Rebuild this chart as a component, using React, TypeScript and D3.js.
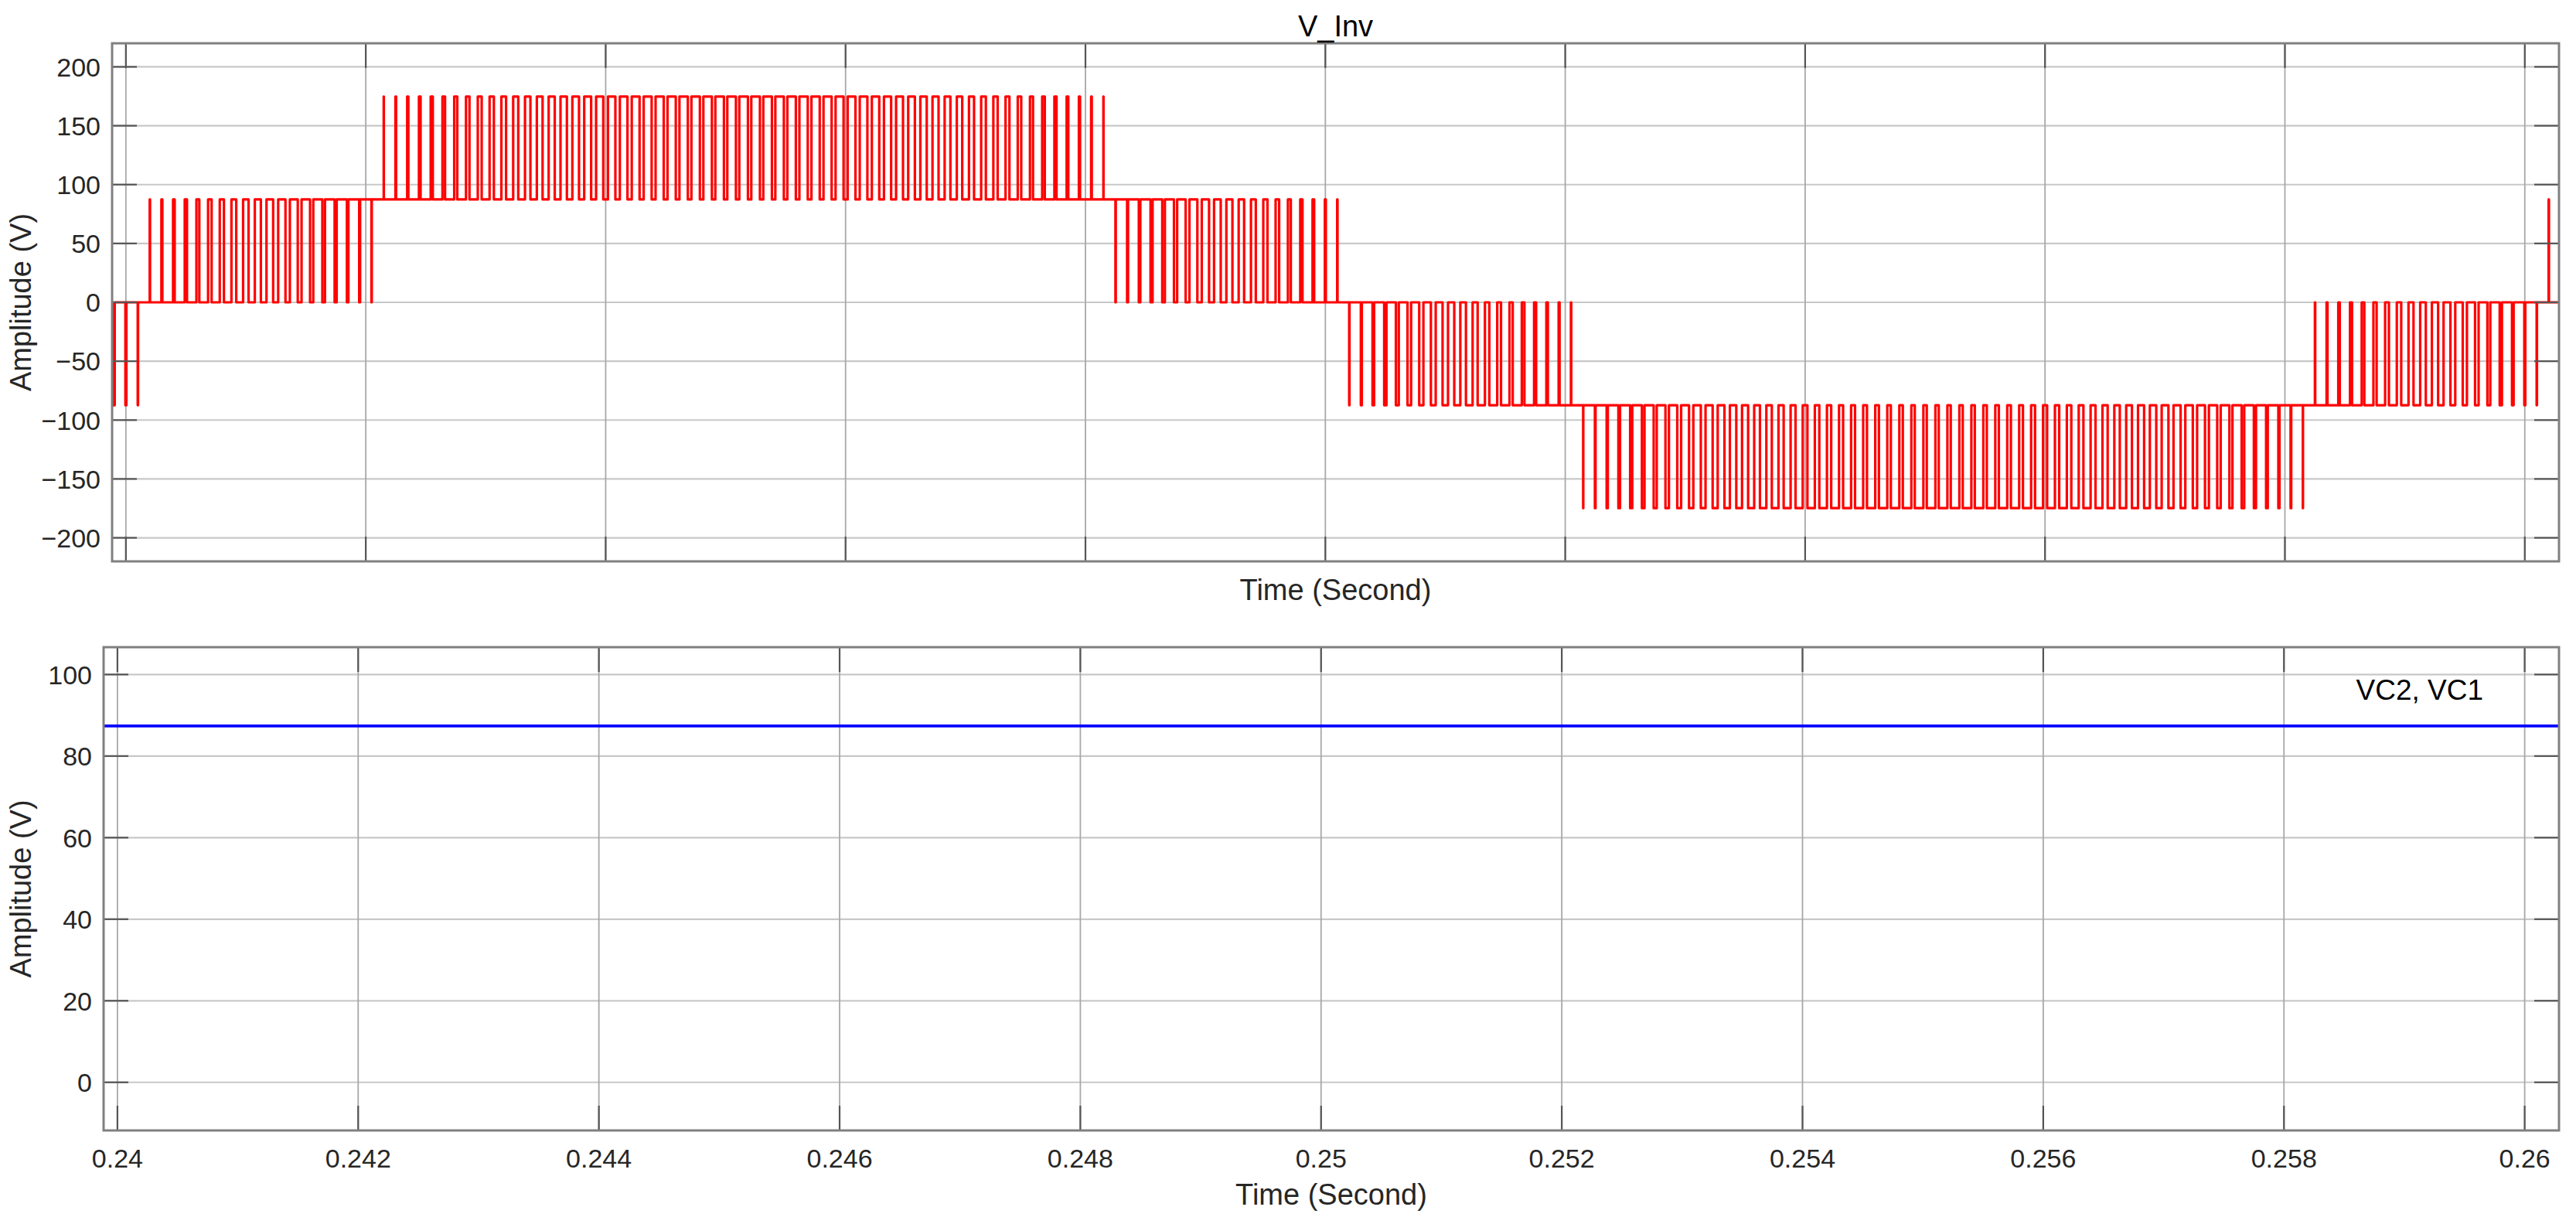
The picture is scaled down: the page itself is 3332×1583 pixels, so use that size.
import React from 'react';
import * as d3 from 'd3';

// ---------- data ----------
const timeDomain: [number, number] = [0.239885, 0.260285];
const timeTicks = [0.24, 0.242, 0.244, 0.246, 0.248, 0.25, 0.252, 0.254, 0.256, 0.258, 0.26];
const timeTickLabels = ['0.24', '0.242', '0.244', '0.246', '0.248', '0.25', '0.252', '0.254', '0.256', '0.258', '0.26'];

const invDomain: [number, number] = [-220, 220];
const invTicks = [-200, -150, -100, -50, 0, 50, 100, 150, 200];
const invTickLabels = ['\u2212200', '\u2212150', '\u2212100', '\u221250', '0', '50', '100', '150', '200'];

const capDomain: [number, number] = [-11.8, 106.7];
const capTicks = [0, 20, 40, 60, 80, 100];
const capTickLabels = ['0', '20', '40', '60', '80', '100'];

// PWM carrier period (s)
const carrierPeriod = 0.0001;

// Pulse duty fractions per carrier cycle, read from the pulse widths
const startDuty = [0.135, 0.081, 0.027];
const risingDuty = [0.027, 0.081, 0.135, 0.189, 0.242, 0.296, 0.349, 0.402, 0.454, 0.506, 0.557, 0.608, 0.658, 0.708, 0.757, 0.805, 0.852, 0.899, 0.944];
const upperDuty = [
  0.011, 0.054, 0.096, 0.138, 0.177, 0.216, 0.254, 0.29, 0.325, 0.359, 0.392, 0.423, 0.452, 0.48, 0.507, 0.533,
  0.556, 0.579, 0.599, 0.618, 0.636, 0.652, 0.666, 0.679, 0.69, 0.699, 0.706, 0.712, 0.717, 0.719, 0.72,
  0.719, 0.717, 0.712, 0.706, 0.699, 0.69, 0.679, 0.666, 0.652, 0.636, 0.618, 0.599, 0.579, 0.556, 0.533,
  0.507, 0.48, 0.452, 0.423, 0.392, 0.359, 0.325, 0.29, 0.254, 0.216, 0.177, 0.138, 0.096, 0.054, 0.011,
];
const fallingDuty = [0.944, 0.899, 0.852, 0.805, 0.757, 0.708, 0.658, 0.608, 0.557, 0.506, 0.454, 0.402, 0.349, 0.296, 0.242, 0.189, 0.135, 0.081, 0.027];
const endDuty = [0.027, 0.081];

// Waveform segments (switching bands)
const segStart = [0.239885, 0.24015, 0.24205, 0.24825, 0.25015, 0.25205, 0.25825, 0.26015];
const segBase = [0, 0, 87.4, 0, 0, -87.4, 0, 0];
const segPeak = [-87.4, 87.4, 174.8, 87.4, -87.4, -174.8, -87.4, 87.4];
const segFirstCenter = [0.2399, 0.2402, 0.24215, 0.2483, 0.2502, 0.25215, 0.2583, 0.2602];
const segDuty = [startDuty, risingDuty, upperDuty, fallingDuty, risingDuty, upperDuty, fallingDuty, endDuty];

// Capacitor voltages
const vcTime = [0.239885, 0.260285];
const vc2 = [87.4, 87.4];
const vc1 = [87.4, 87.4];

// ---------- layout ----------
const W = 3332;
const H = 1583;
const FONT = '"Liberation Sans", Arial, Helvetica, sans-serif';
const TEXT = '#262626';
const GRID_H = '#c8c8c8';
const GRID_V = '#a8a8a8';
const BOX = '#808080';
const TICK = '#555555';
const TICK_LEN = 32;

type Pt = [number, number];

function buildInverterPoints(): Pt[] {
  const pts: Pt[] = [];
  for (let i = 0; i < segStart.length; i++) {
    const s = segStart[i];
    const e = i + 1 < segStart.length ? segStart[i + 1] : timeDomain[1] + carrierPeriod;
    const base = segBase[i];
    const peak = segPeak[i];
    pts.push([s, base]);
    segDuty[i].forEach((d, j) => {
      const c = segFirstCenter[i] + j * carrierPeriod;
      const h = (d * carrierPeriod) / 2;
      pts.push([c - h, base], [c - h, peak], [c + h, peak], [c + h, base]);
    });
    pts.push([e, base]);
  }
  return pts;
}

interface AxesProps {
  id: string;
  left: number;
  right: number;
  top: number;
  bottom: number;
  yDomain: [number, number];
  yTicks: number[];
  yTickLabels: string[];
  showXTickLabels: boolean;
  children: (x: d3.ScaleLinear<number, number>, y: d3.ScaleLinear<number, number>) => React.ReactNode;
}

function Axes(p: AxesProps) {
  const x = d3.scaleLinear().domain(timeDomain).range([p.left, p.right]);
  const y = d3.scaleLinear().domain(p.yDomain).range([p.bottom, p.top]);
  return (
    <g>
      <defs>
        <clipPath id={p.id}>
          <rect x={p.left} y={p.top} width={p.right - p.left} height={p.bottom - p.top} />
        </clipPath>
      </defs>
      <rect x={p.left} y={p.top} width={p.right - p.left} height={p.bottom - p.top} fill="#ffffff" />
      {/* grid */}
      {p.yTicks.map((v) => (
        <line key={'gy' + v} x1={p.left} x2={p.right} y1={y(v)} y2={y(v)} stroke={GRID_H} strokeWidth={2.2} />
      ))}
      {timeTicks.map((t) => (
        <line key={'gx' + t} x1={x(t)} x2={x(t)} y1={p.top} y2={p.bottom} stroke={GRID_V} strokeWidth={1.8} />
      ))}
      {/* data */}
      <g clipPath={`url(#${p.id})`}>{p.children(x, y)}</g>
      {/* ticks */}
      {timeTicks.map((t) => (
        <g key={'tx' + t}>
          <line x1={x(t)} x2={x(t)} y1={p.bottom} y2={p.bottom - TICK_LEN} stroke={TICK} strokeWidth={2.2} />
          <line x1={x(t)} x2={x(t)} y1={p.top} y2={p.top + TICK_LEN} stroke={TICK} strokeWidth={2.2} />
        </g>
      ))}
      {p.yTicks.map((v) => (
        <g key={'ty' + v}>
          <line x1={p.left} x2={p.left + TICK_LEN} y1={y(v)} y2={y(v)} stroke={TICK} strokeWidth={2.2} />
          <line x1={p.right} x2={p.right - TICK_LEN} y1={y(v)} y2={y(v)} stroke={TICK} strokeWidth={2.2} />
        </g>
      ))}
      {/* box */}
      <rect x={p.left} y={p.top} width={p.right - p.left} height={p.bottom - p.top} fill="none" stroke={BOX} strokeWidth={3} />
      {/* y tick labels */}
      {p.yTicks.map((v, i) => (
        <text key={'ly' + v} x={p.left - 15} y={y(v)} dy="0.36em" textAnchor="end" fontSize={34} fontFamily={FONT} fill={TEXT}>
          {p.yTickLabels[i]}
        </text>
      ))}
      {p.showXTickLabels &&
        timeTicks.map((t, i) => (
          <text key={'lx' + t} x={x(t)} y={p.bottom + 48} textAnchor="middle" fontSize={34} fontFamily={FONT} fill={TEXT}>
            {timeTickLabels[i]}
          </text>
        ))}
      {/* y label */}
      <text
        transform={`translate(40, ${(p.top + p.bottom) / 2}) rotate(-90)`}
        textAnchor="middle"
        fontSize={38}
        fontFamily={FONT}
        fill={TEXT}
      >
        Amplitude (V)
      </text>
    </g>
  );
}

export default function App() {
  const invPoints = buildInverterPoints();
  const vcData1: Pt[] = vcTime.map((t, i) => [t, vc1[i]]);
  const vcData2: Pt[] = vcTime.map((t, i) => [t, vc2[i]]);

  const top = { left: 145, right: 3310, top: 56, bottom: 726 };
  const bot = { left: 134, right: 3310, top: 837, bottom: 1462 };

  return (
    <svg
      width={W}
      height={H}
      viewBox={`0 0 ${W} ${H}`}
      style={{ position: 'absolute', left: 0, top: 0, background: '#ffffff', display: 'block' }}
    >
      <rect x={0} y={0} width={W} height={H} fill="#ffffff" />
      <Axes
        id="clipTop"
        {...top}
        yDomain={invDomain}
        yTicks={invTicks}
        yTickLabels={invTickLabels}
        showXTickLabels={false}
      >
        {(x, y) => {
          const line = d3
            .line<Pt>()
            .x((d) => x(d[0]))
            .y((d) => y(d[1]));
          return (
            <path d={line(invPoints) || ''} fill="none" stroke="#ff0000" strokeWidth={3.2} strokeLinejoin="round" />
          );
        }}
      </Axes>
      <text x={(top.left + top.right) / 2} y={47} textAnchor="middle" fontSize={38} fontFamily={FONT} fill="#000000">
        V_Inv
      </text>
      <text x={(top.left + top.right) / 2} y={776} textAnchor="middle" fontSize={38} fontFamily={FONT} fill={TEXT}>
        Time (Second)
      </text>

      <Axes
        id="clipBot"
        {...bot}
        yDomain={capDomain}
        yTicks={capTicks}
        yTickLabels={capTickLabels}
        showXTickLabels={true}
      >
        {(x, y) => {
          const line = d3
            .line<Pt>()
            .x((d) => x(d[0]))
            .y((d) => y(d[1]));
          return (
            <g>
              <path d={line(vcData1) || ''} fill="none" stroke="#0000ff" strokeWidth={3.5} />
              <path d={line(vcData2) || ''} fill="none" stroke="#0000ff" strokeWidth={3.5} />
            </g>
          );
        }}
      </Axes>
      <text x={3212} y={905} textAnchor="end" fontSize={37} fontFamily={FONT} fill="#000000">
        VC2, VC1
      </text>
      <text x={(bot.left + bot.right) / 2} y={1558} textAnchor="middle" fontSize={38} fontFamily={FONT} fill={TEXT}>
        Time (Second)
      </text>
    </svg>
  );
}
